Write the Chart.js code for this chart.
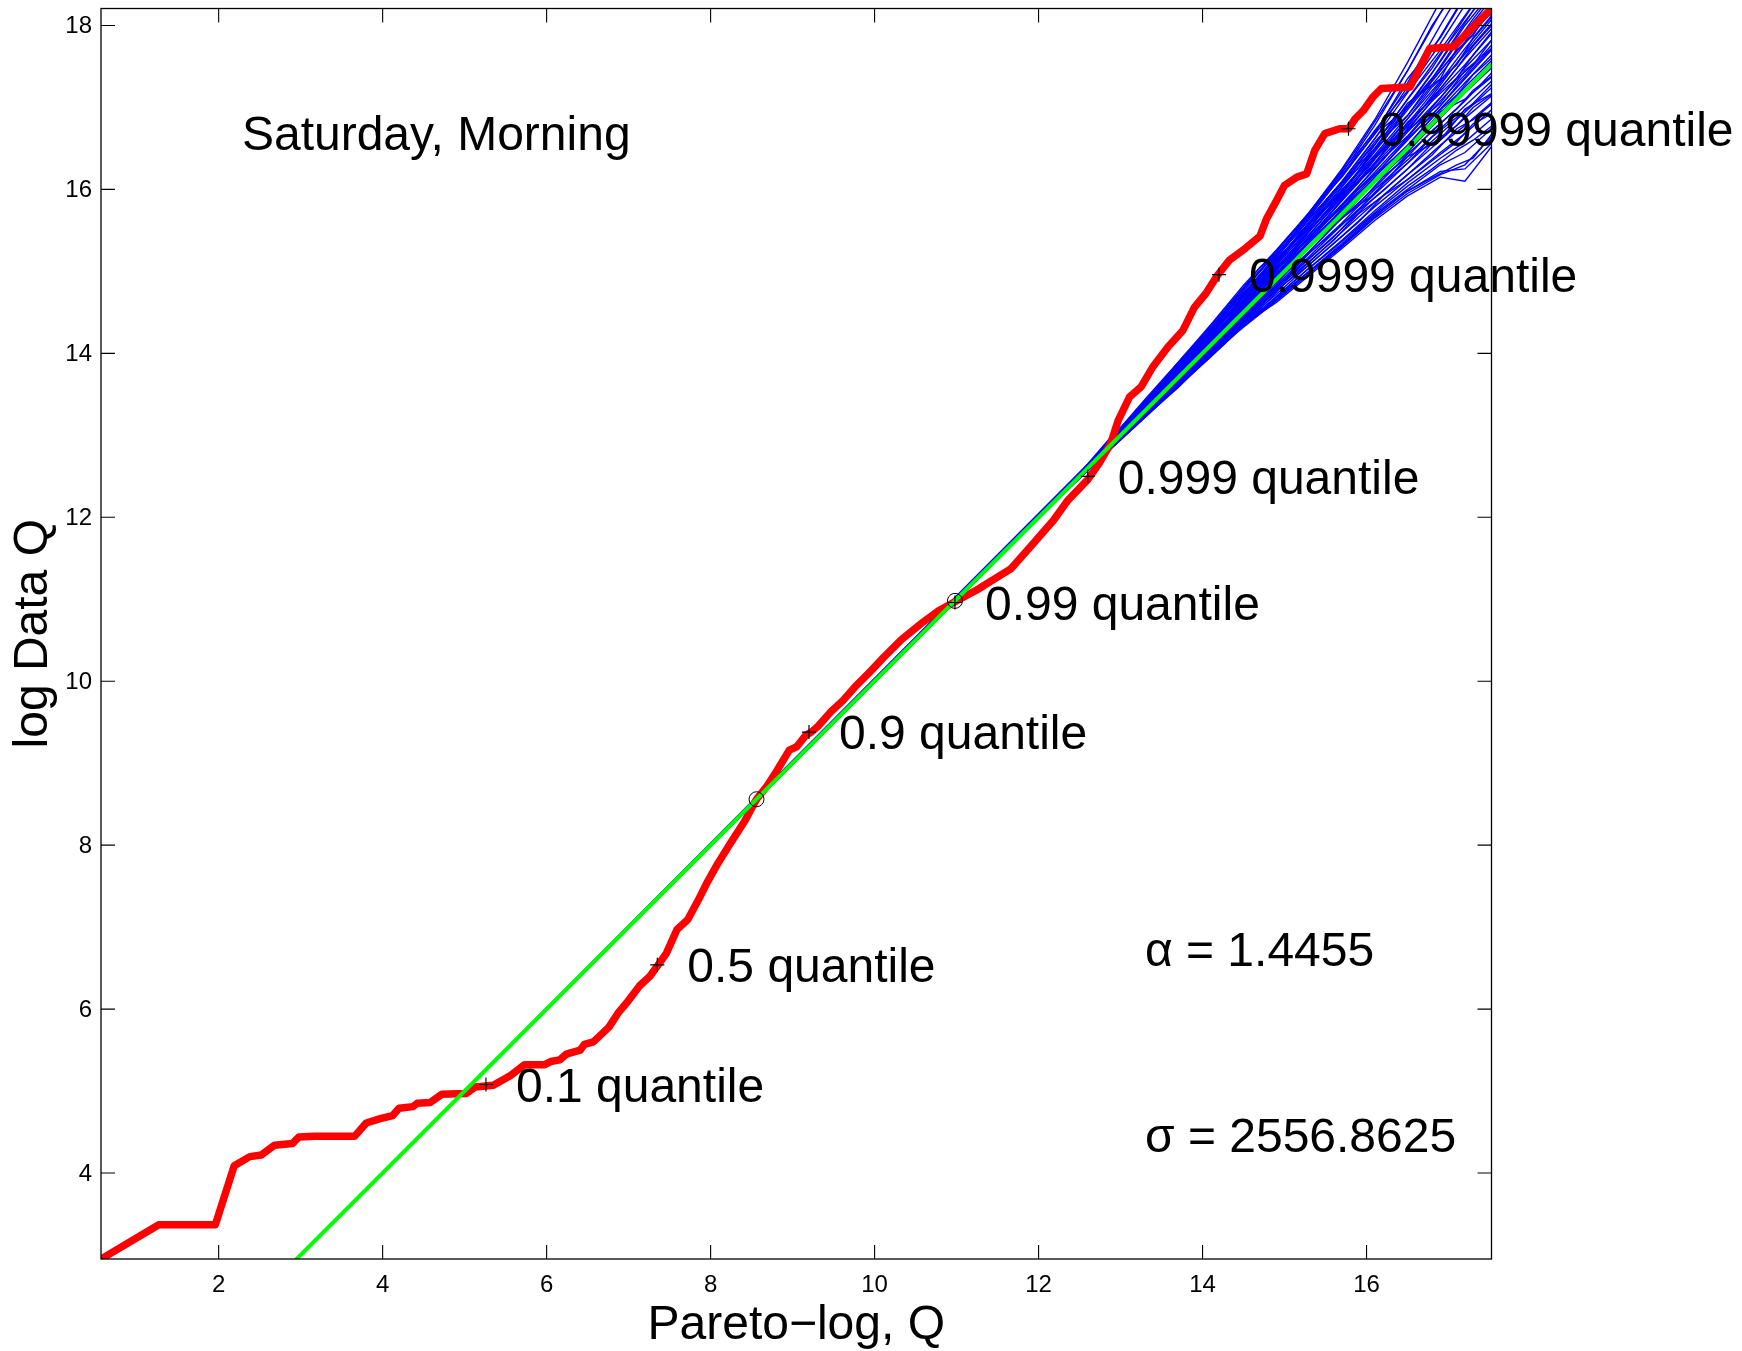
<!DOCTYPE html>
<html>
<head>
<meta charset="utf-8">
<title>Saturday, Morning</title>
<script src="https://cdn.jsdelivr.net/npm/chart.js@4.4.1/dist/chart.umd.min.js"></script>
<style>
  html, body { margin: 0; padding: 0; background: #fff; }
  canvas { display: block; }
</style>
</head>
<body>
<canvas id="chart" width="1742" height="1351"></canvas>
<script>
// axis ranges and ticks
var xRange = [0.565, 17.524];
var yRange = [2.951, 18.207];
var xTicks = [2, 4, 6, 8, 10, 12, 14, 16];
var yTicks = [4, 6, 8, 10, 12, 14, 16, 18];

// empirical log quantiles (red)
var dataX = [0.565, 1.27, 1.96, 2.19, 2.38, 2.52, 2.68, 2.90, 2.98, 3.17, 3.66, 3.80, 3.96, 4.12, 4.20, 4.37, 4.42, 4.58, 4.72, 5.02,
    5.13, 5.35, 5.56, 5.73, 5.97, 6.05, 6.16, 6.24, 6.41, 6.46, 6.57, 6.76, 6.87, 6.98, 7.13, 7.26, 7.36, 7.46, 7.59, 7.72,
    7.85, 7.96, 8.09, 8.24, 8.42, 8.56, 8.68, 8.81, 8.96, 9.05, 9.16, 9.23, 9.31, 9.46, 9.61, 9.76, 9.94, 10.11, 10.33, 10.59,
    10.78, 10.98, 11.24, 11.66, 11.90, 12.18, 12.36, 12.60, 12.74, 12.88, 12.97, 13.11, 13.25, 13.39, 13.58, 13.76, 13.90, 14.04, 14.18, 14.33,
    14.52, 14.70, 14.78, 14.90, 15.00, 15.15, 15.27, 15.37, 15.49, 15.67, 15.78, 15.86, 15.96, 16.08, 16.18, 16.53, 16.77, 17.06, 17.524];
var dataY = [2.951, 3.37, 3.37, 4.09, 4.20, 4.22, 4.34, 4.36, 4.44, 4.45, 4.45, 4.61, 4.66, 4.70, 4.79, 4.81, 4.85, 4.86, 4.96, 4.97,
    5.05, 5.07, 5.19, 5.32, 5.32, 5.36, 5.38, 5.45, 5.50, 5.57, 5.60, 5.78, 5.95, 6.08, 6.28, 6.40, 6.54, 6.68, 6.97, 7.09,
    7.33, 7.55, 7.78, 8.02, 8.30, 8.56, 8.71, 8.91, 9.16, 9.20, 9.34, 9.38, 9.45, 9.62, 9.76, 9.93, 10.11, 10.29, 10.51, 10.72,
    10.86, 10.97, 11.11, 11.37, 11.64, 11.96, 12.21, 12.46, 12.66, 12.90, 13.18, 13.47, 13.59, 13.83, 14.08, 14.28, 14.56, 14.73, 14.95, 15.14,
    15.28, 15.43, 15.64, 15.86, 16.05, 16.15, 16.19, 16.48, 16.68, 16.74, 16.74, 16.86, 16.96, 17.13, 17.23, 17.25, 17.72, 17.74, 18.207];

// fitted pareto line (green)
var fitX = [0.565, 17.524];
var fitY = [0.565, 17.524];

// simulated samples (blue), first group
var simX = [2.95, 12.4, 12.9, 13.3, 13.7, 14.1, 14.5, 14.9, 15.3, 15.7, 16.1, 16.5, 16.9, 17.2, 17.524];
var simY = [
    [2.95, 12.43, 12.98, 13.44, 13.89, 14.35, 14.83, 15.26, 15.72, 16.25, 16.85, 17.55, 18.30, 18.80, 19.32],
    [2.95, 12.42, 12.96, 13.42, 13.88, 14.32, 14.78, 15.25, 15.70, 16.20, 16.78, 17.45, 18.15, 18.65, 19.07],
    [2.95, 12.42, 12.97, 13.40, 13.85, 14.34, 14.80, 15.21, 15.68, 16.22, 16.70, 17.30, 18.00, 18.50, 18.92],
    [2.95, 12.41, 12.95, 13.41, 13.86, 14.30, 14.76, 15.23, 15.72, 16.15, 16.68, 17.35, 17.85, 18.35, 18.82],
    [2.95, 12.42, 12.94, 13.39, 13.84, 14.29, 14.72, 15.20, 15.66, 16.17, 16.72, 17.20, 17.78, 18.25, 18.67],
    [2.95, 12.41, 12.95, 13.38, 13.82, 14.27, 14.74, 15.17, 15.63, 16.10, 16.62, 17.18, 17.70, 18.12, 18.57],
    [2.95, 12.41, 12.93, 13.37, 13.83, 14.25, 14.70, 15.16, 15.65, 16.08, 16.55, 17.10, 17.66, 18.05, 18.47],
    [2.95, 12.42, 12.94, 13.36, 13.80, 14.26, 14.68, 15.14, 15.58, 16.06, 16.58, 17.02, 17.56, 18.00, 18.40],
    [2.95, 12.41, 12.93, 13.37, 13.79, 14.22, 14.69, 15.10, 15.56, 16.03, 16.50, 17.00, 17.48, 17.92, 18.32],
    [2.95, 12.40, 12.94, 13.35, 13.80, 14.23, 14.64, 15.12, 15.54, 15.98, 16.46, 16.97, 17.45, 17.80, 18.24],
    [2.95, 12.41, 12.92, 13.36, 13.77, 14.21, 14.66, 15.07, 15.53, 16.00, 16.42, 16.90, 17.40, 17.78, 18.17],
    [2.95, 12.41, 12.93, 13.34, 13.78, 14.18, 14.63, 15.09, 15.50, 15.94, 16.40, 16.86, 17.32, 17.72, 18.10],
    [2.95, 12.40, 12.92, 13.35, 13.75, 14.20, 14.61, 15.04, 15.49, 15.92, 16.37, 16.80, 17.30, 17.65, 18.02],
    [2.95, 12.41, 12.92, 13.33, 13.76, 14.17, 14.60, 15.02, 15.45, 15.90, 16.32, 16.78, 17.23, 17.60, 17.96],
    [2.95, 12.40, 12.91, 13.34, 13.74, 14.16, 14.58, 15.01, 15.42, 15.86, 16.30, 16.72, 17.20, 17.52, 17.90],
    [2.95, 12.40, 12.92, 13.32, 13.74, 14.15, 14.56, 14.98, 15.41, 15.82, 16.25, 16.70, 17.12, 17.48, 17.82],
    [2.95, 12.40, 12.91, 13.33, 13.72, 14.14, 14.55, 14.95, 15.38, 15.80, 16.21, 16.64, 17.08, 17.40, 17.76],
    [2.95, 12.40, 12.91, 13.31, 13.73, 14.12, 14.53, 14.94, 15.35, 15.76, 16.18, 16.60, 17.02, 17.35, 17.70],
    [2.95, 12.40, 12.90, 13.32, 13.71, 14.12, 14.51, 14.93, 15.32, 15.74, 16.15, 16.54, 16.98, 17.30, 17.64],
    [2.95, 12.40, 12.90, 13.30, 13.71, 14.10, 14.51, 14.90, 15.31, 15.72, 16.11, 16.52, 16.93, 17.25, 17.57],
    [2.95, 12.40, 12.89, 13.30, 13.69, 14.09, 14.50, 14.88, 15.29, 15.67, 16.08, 16.46, 16.87, 17.18, 17.48],
    [2.95, 12.40, 12.90, 13.28, 13.68, 14.07, 14.46, 14.87, 15.24, 15.65, 16.02, 16.43, 16.80, 17.08, 17.42],
    [2.95, 12.39, 12.89, 13.29, 13.67, 14.05, 14.46, 14.83, 15.22, 15.59, 16.00, 16.36, 16.74, 17.02, 17.32],
    [2.95, 12.40, 12.88, 13.27, 13.66, 14.06, 14.43, 14.81, 15.18, 15.57, 15.94, 16.32, 16.68, 16.94, 17.24],
    [2.95, 12.39, 12.89, 13.26, 13.65, 14.03, 14.42, 14.78, 15.16, 15.52, 15.90, 16.25, 16.60, 16.87, 17.14],
    [2.95, 12.40, 12.87, 13.27, 13.63, 14.02, 14.39, 14.76, 15.11, 15.48, 15.84, 16.18, 16.54, 16.78, 17.06],
    [2.95, 12.39, 12.88, 13.25, 13.64, 14.00, 14.38, 14.72, 15.08, 15.43, 15.79, 16.12, 16.45, 16.68, 16.97],
    [2.95, 12.39, 12.87, 13.24, 13.61, 13.99, 14.35, 14.69, 15.04, 15.38, 15.74, 16.08, 16.38, 16.58, 16.86],
    [2.95, 12.38, 12.86, 13.23, 13.60, 13.97, 14.34, 14.66, 15.00, 15.34, 15.70, 16.00, 16.30, 16.45, 16.74],
    [2.95, 12.39, 12.85, 13.22, 13.59, 13.96, 14.33, 14.64, 14.97, 15.30, 15.65, 15.95, 16.18, 16.30, 16.64],
    [2.95, 12.38, 12.86, 13.23, 13.58, 13.98, 14.35, 14.62, 14.95, 15.28, 15.62, 15.92, 16.15, 16.10, 16.52],
    [2.95, 12.38, 12.85, 13.22, 13.60, 13.96, 14.34, 14.68, 15.00, 15.32, 15.68, 15.98, 16.22, 16.25, 16.56],
    [2.95, 12.42, 12.96, 13.38, 13.75, 14.22, 14.70, 15.05, 15.40, 15.88, 16.40, 16.72, 17.05, 17.45, 17.72],
    [2.95, 12.40, 12.88, 13.33, 13.78, 14.14, 14.48, 14.95, 15.42, 15.78, 16.12, 16.44, 16.95, 17.10, 17.37],
    [2.95, 12.41, 12.93, 13.40, 13.82, 14.28, 14.64, 15.12, 15.60, 15.95, 16.50, 17.05, 17.35, 17.90, 18.14],
    [2.95, 12.39, 12.86, 13.28, 13.64, 14.07, 14.40, 14.84, 15.32, 15.65, 15.95, 16.40, 16.60, 16.98, 17.17]
];

// simulated samples (blue), second group on a finer grid
var simX2 = [2.95, 12.6, 12.9, 13.2, 13.5, 13.8, 14.1, 14.4, 14.7, 15.0, 15.3, 15.6, 15.9, 16.2, 16.5, 16.8, 17.1, 17.3, 17.524];
var simY2 = [
    [2.95, 12.65, 13.00, 13.28, 13.65, 14.00, 14.28, 14.68, 15.05, 15.30, 15.72, 16.10, 16.52, 16.98, 17.45, 18.00, 18.45, 18.80, 19.14],
    [2.95, 12.63, 12.94, 13.29, 13.62, 13.90, 14.30, 14.64, 14.92, 15.32, 15.68, 16.05, 16.42, 16.80, 17.25, 17.70, 18.20, 18.35, 18.77],
    [2.95, 12.62, 12.95, 13.24, 13.59, 13.94, 14.22, 14.58, 14.96, 15.24, 15.60, 15.98, 16.26, 16.68, 17.10, 17.48, 17.95, 18.25, 18.54],
    [2.95, 12.61, 12.93, 13.26, 13.55, 13.90, 14.25, 14.53, 14.90, 15.25, 15.52, 15.90, 16.30, 16.58, 17.00, 17.35, 17.80, 18.08, 18.37],
    [2.95, 12.62, 12.91, 13.25, 13.58, 13.86, 14.22, 14.56, 14.84, 15.21, 15.58, 15.86, 16.22, 16.62, 16.90, 17.32, 17.70, 17.88, 18.24],
    [2.95, 12.60, 12.93, 13.22, 13.56, 13.89, 14.17, 14.52, 14.88, 15.15, 15.50, 15.84, 16.20, 16.48, 16.86, 17.25, 17.52, 17.85, 18.12],
    [2.95, 12.61, 12.90, 13.24, 13.53, 13.87, 14.20, 14.48, 14.81, 15.16, 15.44, 15.80, 16.08, 16.45, 16.82, 17.10, 17.48, 17.75, 18.00],
    [2.95, 12.60, 12.92, 13.21, 13.54, 13.83, 14.16, 14.49, 14.77, 15.12, 15.40, 15.75, 16.10, 16.36, 16.74, 17.08, 17.36, 17.64, 17.92],
    [2.95, 12.60, 12.91, 13.23, 13.52, 13.85, 14.14, 14.46, 14.75, 15.08, 15.42, 15.69, 16.03, 16.38, 16.65, 17.00, 17.35, 17.52, 17.82],
    [2.95, 12.60, 12.89, 13.22, 13.51, 13.80, 14.13, 14.42, 14.76, 15.04, 15.37, 15.65, 16.00, 16.28, 16.62, 16.90, 17.26, 17.48, 17.72],
    [2.95, 12.60, 12.91, 13.19, 13.50, 13.82, 14.09, 14.41, 14.70, 15.03, 15.31, 15.64, 15.92, 16.26, 16.53, 16.88, 17.15, 17.40, 17.60],
    [2.95, 12.59, 12.90, 13.20, 13.48, 13.79, 14.07, 14.38, 14.65, 14.97, 15.24, 15.56, 15.82, 16.15, 16.40, 16.72, 16.98, 17.21, 17.38],
    [2.95, 12.60, 12.88, 13.19, 13.47, 13.75, 14.06, 14.33, 14.64, 14.90, 15.22, 15.48, 15.75, 16.07, 16.32, 16.64, 16.88, 17.05, 17.28],
    [2.95, 12.59, 12.89, 13.17, 13.48, 13.74, 14.02, 14.33, 14.59, 14.90, 15.15, 15.42, 15.74, 15.98, 16.25, 16.56, 16.78, 17.00, 17.16],
    [2.95, 12.59, 12.87, 13.18, 13.45, 13.73, 14.04, 14.30, 14.57, 14.88, 15.12, 15.38, 15.70, 15.92, 16.18, 16.42, 16.74, 16.85, 17.04],
    [2.95, 12.58, 12.88, 13.15, 13.44, 13.75, 14.00, 14.28, 14.54, 14.85, 15.08, 15.34, 15.60, 15.92, 16.12, 16.35, 16.58, 16.80, 16.92],
    [2.95, 12.59, 12.86, 13.16, 13.42, 13.70, 14.01, 14.26, 14.52, 14.78, 15.04, 15.28, 15.54, 15.80, 16.04, 16.25, 16.48, 16.60, 16.77],
    [2.95, 12.58, 12.87, 13.14, 13.43, 13.69, 13.97, 14.24, 14.48, 14.74, 15.00, 15.22, 15.48, 15.75, 15.98, 16.14, 16.30, 16.38, 16.67],
    [2.95, 12.62, 12.96, 13.25, 13.60, 13.94, 14.30, 14.58, 14.95, 15.32, 15.58, 15.96, 16.35, 16.75, 17.00, 17.42, 17.88, 18.18, 18.47],
    [2.95, 12.61, 12.92, 13.25, 13.53, 13.88, 14.16, 14.50, 14.86, 15.12, 15.48, 15.84, 16.10, 16.50, 16.76, 17.14, 17.54, 17.80, 18.07]
];

// quantile markers
var quantX = [5.26, 7.35, 9.20, 10.98, 12.60, 14.20, 15.78];
var quantY = [5.08, 6.54, 9.38, 10.96, 12.50, 14.96, 16.74];
var quantLabels = ['0.1 quantile', '0.5 quantile', '0.9 quantile', '0.99 quantile',
    '0.999 quantile', '0.9999 quantile', '0.99999 quantile'];
var circleX = [8.56, 10.98];
var circleY = [8.56, 10.98];

var FONT = '"Liberation Sans", Arial, Helvetica, sans-serif';

function pairs(xs, ys) {
    return xs.map(function (x, i) { return { x: x, y: ys[i] }; });
}

function simLine(xs, ys) {
    return {
        data: pairs(xs, ys),
        showLine: true,
        borderColor: '#0000ff',
        borderWidth: 1.4,
        pointRadius: 0,
        clip: 0,
        order: 3
    };
}

var datasets = [];
simY.forEach(function (ys) { datasets.push(simLine(simX, ys)); });
simY2.forEach(function (ys) { datasets.push(simLine(simX2, ys)); });
datasets.push({
    data: pairs(dataX, dataY),
    showLine: true,
    borderColor: '#ff0000',
    borderWidth: 7.5,
    borderJoinStyle: 'round',
    borderCapStyle: 'round',
    pointRadius: 0,
    clip: 0,
    order: 2
});
datasets.push({
    data: pairs(fitX, fitY),
    showLine: true,
    borderColor: '#00ff00',
    borderWidth: 4,
    pointRadius: 0,
    clip: 0,
    order: 1
});
datasets.push({
    data: pairs(quantX, quantY),
    showLine: false,
    pointStyle: 'cross',
    pointRadius: 7,
    borderColor: '#000',
    borderWidth: 1.2,
    order: 0
});
datasets.push({
    data: pairs(circleX, circleY),
    showLine: false,
    pointStyle: 'circle',
    pointRadius: 7.5,
    backgroundColor: 'rgba(0,0,0,0)',
    borderColor: '#000',
    borderWidth: 1,
    order: 0
});

// box, inward ticks, labels and text
var frame = {
    id: 'frame',
    afterDraw: function (chart) {
        var ctx = chart.ctx;
        var a = chart.chartArea;
        var xs = chart.scales.x, ys = chart.scales.y;
        ctx.save();
        ctx.strokeStyle = '#000';
        ctx.lineWidth = 1.3;
        ctx.strokeRect(a.left, a.top, a.right - a.left, a.bottom - a.top);
        ctx.beginPath();
        xTicks.forEach(function (v) {
            var px = xs.getPixelForValue(v);
            ctx.moveTo(px, a.bottom); ctx.lineTo(px, a.bottom - 14);
            ctx.moveTo(px, a.top); ctx.lineTo(px, a.top + 14);
        });
        yTicks.forEach(function (v) {
            var py = ys.getPixelForValue(v);
            ctx.moveTo(a.left, py); ctx.lineTo(a.left + 14, py);
            ctx.moveTo(a.right, py); ctx.lineTo(a.right - 14, py);
        });
        ctx.lineWidth = 1.1;
        ctx.stroke();

        ctx.fillStyle = '#000';
        ctx.font = '24px ' + FONT;
        ctx.textBaseline = 'middle';
        ctx.textAlign = 'center';
        xTicks.forEach(function (v) {
            ctx.fillText(String(v), xs.getPixelForValue(v), a.bottom + 26);
        });
        ctx.textAlign = 'right';
        yTicks.forEach(function (v) {
            ctx.fillText(String(v), a.left - 9, ys.getPixelForValue(v) + 1);
        });

        ctx.font = '48px ' + FONT;
        ctx.textAlign = 'center';
        ctx.fillText('Pareto\u2212log, Q', (a.left + a.right) / 2, 1326);
        ctx.save();
        ctx.translate(34, (a.top + a.bottom) / 2);
        ctx.rotate(-Math.PI / 2);
        ctx.fillText('log Data Q', 0, 0);
        ctx.restore();

        var dy = 4;
        ctx.textAlign = 'left';
        quantX.forEach(function (v, i) {
            ctx.fillText(quantLabels[i], xs.getPixelForValue(v) + 30, ys.getPixelForValue(quantY[i]) + dy);
        });
        ctx.fillText('Saturday, Morning', xs.getPixelForValue(2.284), ys.getPixelForValue(16.69) + dy);
        ctx.fillText('\u03b1 = 1.4455', xs.getPixelForValue(13.297), ys.getPixelForValue(6.74) + dy);
        ctx.fillText('\u03c3 = 2556.8625', xs.getPixelForValue(13.297), ys.getPixelForValue(4.463) + dy);
        ctx.restore();
    }
};

new Chart('chart', {
    type: 'scatter',
    data: { datasets: datasets },
    options: {
        responsive: false,
        animation: false,
        events: [],
        layout: { padding: { left: 101, top: 8, right: 250.5, bottom: 92 } },
        plugins: { legend: { display: false }, tooltip: { enabled: false } },
        scales: {
            x: { type: 'linear', display: false, min: xRange[0], max: xRange[1] },
            y: { type: 'linear', display: false, min: yRange[0], max: yRange[1] }
        }
    },
    plugins: [frame]
});
</script>
</body>
</html>
